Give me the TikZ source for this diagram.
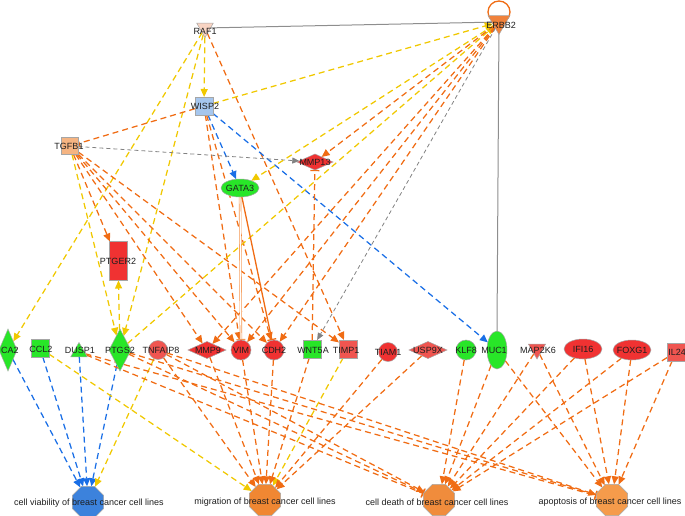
\documentclass[tikz,border=0pt]{standalone}
\usepackage{fontspec}
\setmainfont{Liberation Sans}
\usetikzlibrary{arrows.meta,shapes.geometric}
\definecolor{ora}{RGB}{240,108,20}
\definecolor{lora}{RGB}{245,150,80}
\definecolor{yel}{RGB}{240,200,0}
\definecolor{blu}{RGB}{25,110,230}
\definecolor{gry}{RGB}{130,130,130}
\definecolor{grn}{RGB}{40,230,40}
\definecolor{nred}{RGB}{240,50,50}
\definecolor{lred}{RGB}{240,85,80}
\definecolor{salm}{RGB}{249,212,195}
\definecolor{erbc}{RGB}{240,130,60}
\definecolor{wispc}{RGB}{165,198,238}
\definecolor{tgfc}{RGB}{245,180,130}
\definecolor{cvc}{RGB}{60,130,220}
\definecolor{migc}{RGB}{240,135,50}
\definecolor{cdc}{RGB}{240,140,60}
\definecolor{apoc}{RGB}{245,155,75}
\definecolor{txt}{RGB}{30,30,30}
\pgfdeclarelayer{bg}
\pgfsetlayers{bg,main}
\begin{document}
\begin{tikzpicture}[x=1pt,y=-1pt,
  lnbase/.style={line width=1.25pt, dash pattern=on 6pt off 4pt},
  ao/.style={lnbase, draw=ora, -{Triangle[length=8pt,width=7pt]}},
  ay/.style={lnbase, draw=yel, -{Triangle[length=8pt,width=7pt]}},
  ab/.style={lnbase, draw=blu, -{Triangle[length=8pt,width=7pt]}},
  ag/.style={line width=0.8pt, dash pattern=on 4pt off 3pt, draw=gry, -{Triangle[length=7pt,width=6pt]}},
  io/.style={lnbase, draw=ora, -{Bar[width=9pt]}},
  sol/.style={line width=1pt, draw=gry!90},
  nb/.style={draw=gray!70, line width=0.5pt, inner sep=0pt, outer sep=0pt},
  sq/.style={nb, rectangle, minimum size=18pt},
  circ/.style={nb, circle, minimum size=20pt},
  hdia/.style={nb, diamond, minimum width=38pt, minimum height=17pt},
  vdia/.style={nb, diamond, minimum width=20pt, minimum height=42pt},
  itri/.style={nb, regular polygon, regular polygon sides=3, shape border rotate=180, minimum size=21pt},
  utri/.style={nb, regular polygon, regular polygon sides=3, minimum size=21pt},
  ell/.style={nb, ellipse, minimum width=38pt, minimum height=20pt},
  vell/.style={nb, ellipse, minimum width=20pt, minimum height=38pt},
  oct/.style={nb, regular polygon, regular polygon sides=8, minimum size=34pt},
  lbl/.style={inner sep=0pt, text=txt, font=\fontsize{9}{10}\selectfont}
]
\useasboundingbox (0,0) rectangle (685,516);

% ---------- shapes ----------
\node[itri, fill=salm, minimum size=19pt] (raf) at (205,28) {};
\node[itri, fill=erbc, minimum size=25pt] (erbb) at (499,22) {};
\node[sq, fill=wispc] (wisp) at (204,106) {};
\node[sq, fill=tgfc, minimum size=17pt] (tgfb) at (70,146) {};
\node[hdia, fill=nred, minimum width=36pt, minimum height=16pt] (mmp13) at (315,162) {};
\node[ell, fill=grn, minimum height=18pt] (gata) at (240,188) {};
\node[nb, rectangle, fill=nred, minimum width=18pt, minimum height=39pt] (ptger) at (118,261) {};

\node[vdia, fill=grn, minimum width=18pt] (ca2) at (8,350) {};
\node[sq, fill=grn] (ccl2) at (40,348) {};
\node[utri, fill=grn, minimum size=19pt] (dusp) at (79,352) {};
\node[vdia, fill=grn, minimum width=22pt] (ptgs) at (120,350) {};
\node[circ, fill=lred, minimum size=19pt] (tnf) at (158,350) {};
\node[hdia, fill=nred] (mmp9) at (207,350) {};
\node[circ, fill=nred] (vim) at (241,350) {};
\node[circ, fill=nred] (cdh) at (274,350) {};
\node[sq, fill=grn] (wnt) at (312,349) {};
\node[sq, fill=lred] (timp) at (348,349) {};
\node[circ, fill=nred, minimum size=19pt] (tiam) at (388,352) {};
\node[hdia, fill=lred] (usp) at (428,350) {};
\node[circ, fill=grn] (klf) at (466,350) {};
\node[vell, fill=grn] (muc) at (497,350) {};
\node[itri, fill=lred, minimum size=20pt] (map) at (537,349) {};
\node[ell, fill=nred] (ifi) at (583,349) {};
\node[ell, fill=nred] (fox) at (632,350) {};
\node[sq, fill=lred] (il24) at (676,352) {};

\node[oct, fill=cvc] (cv) at (88,502) {};
\node[oct, fill=migc] (mig) at (265,500) {};
\node[oct, fill=cdc] (cd) at (439,500) {};
\node[oct, fill=apoc] (apo) at (612,500) {};

% ---------- labels ----------
\node[lbl] (rafL) at (205,31) {RAF1};
\node[lbl] (erbbL) at (501,25) {ERBB2};
\node[lbl] (wispL) at (205,106) {WISP2};
\node[lbl] (tgfbL) at (69,146) {TGFB1};
\node[lbl] (mmp13L) at (315,162) {MMP13};
\node[lbl] (gataL) at (240,188) {GATA3};
\node[lbl] (ptgerL) at (118,261) {PTGER2};
\node[lbl] (ca2L) at (10,350) {CA2};
\node[lbl] (ccl2L) at (41,349) {CCL2};
\node[lbl] (duspL) at (80,350) {DUSP1};
\node[lbl] (ptgsL) at (120,350) {PTGS2};
\node[lbl] (tnfL) at (161,350) {TNFAIP8};
\node[lbl] (mmp9L) at (208,350) {MMP9};
\node[lbl] (vimL) at (241,350) {VIM};
\node[lbl] (cdhL) at (274,350) {CDH2};
\node[lbl] (wntL) at (313,350) {WNT5A};
\node[lbl] (timpL) at (346,350) {TIMP1};
\node[lbl] (tiamL) at (388,352) {TIAM1};
\node[lbl] (uspL) at (428,350) {USP9X};
\node[lbl] (klfL) at (466,350) {KLF8};
\node[lbl] (mucL) at (494,350) {MUC1};
\node[lbl] (mapL) at (538,350) {MAP2K6};
\node[lbl] (ifiL) at (583,349) {IFI16};
\node[lbl] (foxL) at (632,350) {FOXG1};
\node[lbl] (il24L) at (677,352) {IL24};
\node[lbl] (cvL) at (89,503) {cell viability of breast cancer cell lines};
\node[lbl] (migL) at (265,502) {migration of breast cancer cell lines};
\node[lbl] (cdL) at (437,502) {cell death of breast cancer cell lines};
\node[lbl] (apoL) at (610,502) {apoptosis of breast cancer cell lines};

% ---------- connectors ----------
\begin{pgfonlayer}{bg}
\draw[ora, line width=1.3pt] (499,12) circle (11);
\draw[sol] (raf) -- (erbb);
\draw[sol] (erbb.center) -- (muc.north);

\draw[ay] (raf) -- (wisp);
\draw[ay] (raf) -- (ca2);
\draw[ay] (raf) -- (ptgs);
\draw[ao] (raf) -- (timp);

\draw[ay] (wisp) -- (erbb);
\draw[io] (wisp) -- (tgfb);
\draw[ab] (wisp) -- (gata);
\draw[ab] (wisp) -- (muc);
\draw[ao] (wisp) -- (vim);
\draw[ao] (wisp) -- (cdh);

\draw[ag] (tgfb) -- (mmp13);
\draw[ao] (tgfb) -- (ptger);
\draw[ay] (tgfb) -- (ptgs);
\draw[ao] (tgfb) -- (mmp9);
\draw[ao] (tgfb) -- (vim);
\draw[ao] (tgfb) -- (cdh);
\draw[ao] (tgfb) -- (timp);

\draw[ay] (erbb) -- (gata);
\draw[ay] (ptgs) -- (erbb);
\draw[ao] (erbb) -- (mmp13);
\draw[ao] (erbb) -- (mmp9);
\draw[ao] (erbb) -- (vim);
\draw[ao] (erbb) -- (cdh);
\draw[ag] (erbb) -- (wnt);

\draw[io] (wnt) -- (mmp13);
\draw[line width=0.6pt, draw=lora, double=white, double distance=1.2pt, -{Bar[width=9pt,line width=1pt]}] (gata) -- (vim);
\draw[line width=1.3pt, draw=ora, -{Bar[width=9pt]}] (gata) -- (cdh);
\draw[ay] (ptgs) -- (ptger);

% outcomes
\draw[ab] (ca2) -- (cv);
\draw[ab] (ccl2) -- (cv);
\draw[ab] (dusp) -- (cv);
\draw[ab] (ptgs) -- (cv);
\draw[ay] (tnf) -- (cv);

\draw[ay] (ccl2) -- (mig);
\draw[ay] (timp) -- (mig);
\draw[ao] (tnf) -- (mig);
\draw[ao] (mmp9) -- (mig);
\draw[ao] (vim) -- (mig);
\draw[ao] (cdh) -- (mig);
\draw[ao] (wnt) -- (mig);
\draw[ao] (tiam) -- (mig);
\draw[ao] (usp) -- (mig);

\draw[io] (dusp) -- (cd);
\draw[io] (ptgs) -- (cd);
\draw[io] (dusp) -- (apo);
\draw[io] (ptgs) -- (apo);
\draw[ao] (tnf) -- (cd);
\draw[ao] (tnf) -- (apo);

\draw[ao] (klf) -- (cd);
\draw[ao] (muc) -- (cd);
\draw[ao] (map) -- (cd);
\draw[ao] (ifi) -- (cd);
\draw[ao] (fox) -- (cd);
\draw[ao] (il24) -- (cd);

\draw[ao] (muc) -- (apo);
\draw[ao] (map) -- (apo);
\draw[ao] (ifi) -- (apo);
\draw[ao] (fox) -- (apo);
\draw[ao] (il24) -- (apo);
\end{pgfonlayer}
\end{tikzpicture}
\end{document}
